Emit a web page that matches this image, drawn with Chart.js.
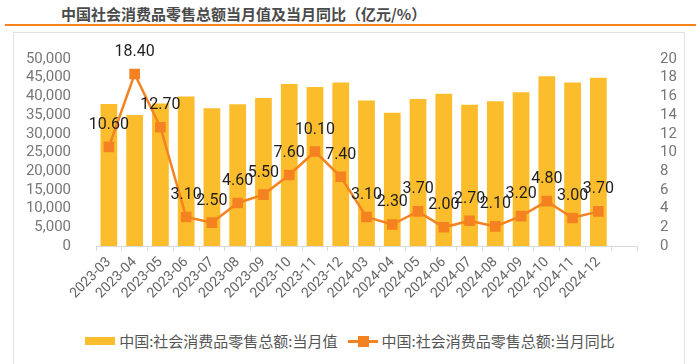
<!DOCTYPE html>
<html>
<head>
<meta charset="utf-8">
<script src="https://cdn.jsdelivr.net/npm/chart.js@4"></script>
<style>
  body { margin: 0; width: 700px; height: 364px; background: #fff; position: relative; overflow: hidden; }
  .title { position: absolute; left: 61px; top: 3px; font: bold 15px "Noto Sans CJK SC", sans-serif; color: #4a4a4a; white-space: nowrap; }
  .rule { position: absolute; left: 5px; top: 24px; width: 691px; height: 2px; background: #f7821b; }
  .box { position: absolute; left: 13px; top: 32px; width: 670px; height: 340px; border: 1px solid #e2e2e2; }
  #chart { position: absolute; left: 14px; top: 33px; }
  .legend { position: absolute; top: 328px; left: 0; width: 700px; text-align: center; font: 15px "Noto Sans CJK SC", sans-serif; color: #555; white-space: nowrap; }
  .legend span { display: inline-block; vertical-align: middle; }
  .sw-bar { width: 30px; height: 8px; background: #fbbd2c; margin-right: 4px; }
  .sw-line { width: 30px; height: 12px; position: relative; margin: 0 4px 0 10px; }
  .sw-line:before { content: ""; position: absolute; left: 0; top: 5px; width: 30px; height: 3px; background: #f58220; }
  .sw-line:after { content: ""; position: absolute; left: 10px; top: 1px; width: 11px; height: 11px; background: #f58220; }
</style>
</head>
<body>
<div class="title">中国社会消费品零售总额当月值及当月同比（亿元/%）</div>
<div class="rule"></div>
<div class="box"></div>
<canvas id="chart" width="670" height="292"></canvas>
<div class="legend"><span class="sw-bar"></span><span>中国:社会消费品零售总额:当月值</span><span class="sw-line"></span><span>中国:社会消费品零售总额:当月同比</span></div>
<script>
const months = ['2023-03', '2023-04', '2023-05', '2023-06', '2023-07', '2023-08', '2023-09', '2023-10', '2023-11', '2023-12',
    '2024-03', '2024-04', '2024-05', '2024-06', '2024-07', '2024-08', '2024-09', '2024-10', '2024-11', '2024-12'];
const monthlyValue = [38000, 35000, 38100, 40000, 36800, 37900, 39600, 43300, 42500, 43700,
    38900, 35600, 39300, 40700, 37800, 38700, 41100, 45400, 43700, 45000];
const yoyGrowth = [10.6, 18.4, 12.7, 3.1, 2.5, 4.6, 5.5, 7.6, 10.1, 7.4,
    3.1, 2.3, 3.7, 2.0, 2.7, 2.1, 3.2, 4.8, 3.0, 3.7];
const leftTicks = [0, 5000, 10000, 15000, 20000, 25000, 30000, 35000, 40000, 45000, 50000];
const rightTicks = [0, 2, 4, 6, 8, 10, 12, 14, 16, 18, 20];

// extra empty slot at the end, like the original
const labels = months.concat(['']);

const pointLabels = {
    id: 'pointLabels',
    afterDatasetsDraw(chart) {
        const meta = chart.getDatasetMeta(1);
        const c = chart.ctx;
        c.save();
        c.font = '16px Roboto';
        c.fillStyle = '#1f1f1f';
        c.textAlign = 'center';
        c.textBaseline = 'middle';
        meta.data.forEach((pt, i) => {
            if (yoyGrowth[i] == null) return;
            c.fillText(yoyGrowth[i].toFixed(2), pt.x, pt.y - 22);
        });
        c.restore();
    }
};

const tickColor = '#777';

new Chart(document.getElementById('chart'), {
    type: 'bar',
    data: {
        labels: labels,
        datasets: [{
            type: 'bar',
            data: monthlyValue,
            backgroundColor: '#fbbd2c',
            yAxisID: 'y',
            order: 2,
            categoryPercentage: 1,
            barPercentage: 0.65
        }, {
            type: 'line',
            data: yoyGrowth,
            borderColor: '#f58220',
            backgroundColor: '#f58220',
            borderWidth: 2.5,
            pointStyle: 'rect',
            pointRadius: 7.5,
            pointBorderWidth: 0,
            yAxisID: 'y1',
            order: 1
        }]
    },
    options: {
        responsive: false,
        animation: false,
        layout: { padding: { top: 20 } },
        plugins: {
            legend: { display: false },
            tooltip: { enabled: false }
        },
        scales: {
            x: {
                afterFit: (s) => { s.height = 79; },
                grid: { display: true, drawOnChartArea: false, offset: true, tickLength: 5, color: '#d9d9d9' },
                border: { color: '#d9d9d9' },
                ticks: { color: '#666', font: { size: 14, family: 'Roboto' }, minRotation: 45, maxRotation: 45, autoSkip: false, padding: 3 }
            },
            y: {
                position: 'left',
                min: 0,
                max: 50000,
                afterFit: (s) => { s.width = 82; },
                afterBuildTicks: (s) => { s.ticks = leftTicks.map(v => ({ value: v })); },
                grid: { display: false },
                border: { display: false },
                ticks: {
                    color: tickColor,
                    font: { size: 15, family: 'Roboto' },
                    padding: 17,
                    autoSkip: false,
                    callback: (v) => v.toLocaleString('en-US')
                }
            },
            y1: {
                position: 'right',
                min: 0,
                max: 20,
                afterFit: (s) => { s.width = 47; },
                afterBuildTicks: (s) => { s.ticks = rightTicks.map(v => ({ value: v })); },
                grid: { display: false },
                border: { display: false },
                ticks: { color: tickColor, font: { size: 15, family: 'Roboto' }, padding: 15, autoSkip: false }
            }
        }
    },
    plugins: [pointLabels]
});
</script>
</body>
</html>
